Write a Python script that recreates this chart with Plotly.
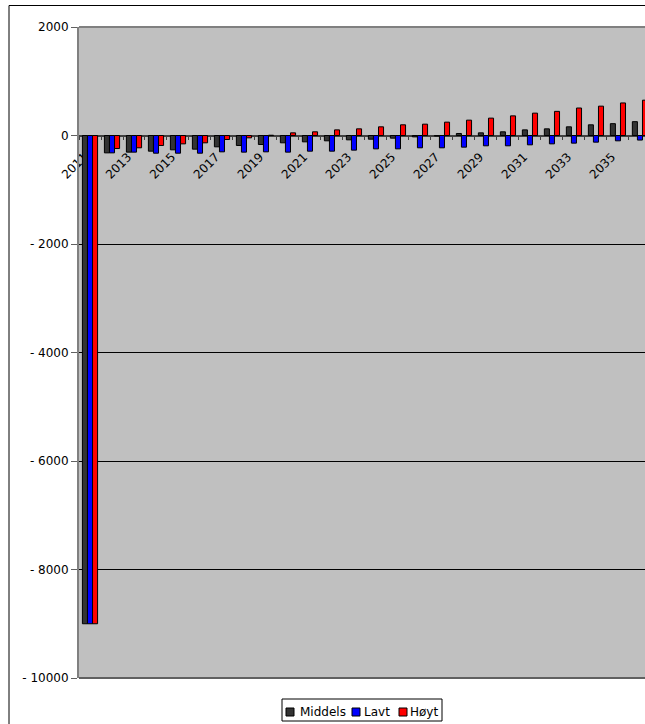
import plotly.graph_objects as go

years = [str(y) for y in range(2011, 2037)]
middels = [-9000, -320, -307, -289, -264, -252, -209, -184, -166, -135, -117, -98, -80,
           -68, -49, -25, -10, 37, 49, 68, 104, 123, 160, 197, 218, 255]
lavt = [-9000, -320, -307, -326, -326, -326, -301, -307, -301, -307, -289, -289, -270,
        -246, -246, -227, -227, -215, -190, -190, -172, -154, -141, -123, -98, -84]
hoyt = [-9000, -240, -227, -184, -154, -135, -74, -43, 5, 49, 68, 104, 123,
        160, 197, 209, 246, 283, 320, 362, 412, 445, 507, 541, 600, 651]
series_names = ["Middels", "Lavt", "Høyt"]
series_colors = ["#333333", "#0000FF", "#FF0000"]
x_ticktext = [y if int(y) % 2 == 1 else "" for y in years]
y_tickvals = [2000, 0, -2000, -4000, -6000, -8000, -10000]
y_ticktext = ["2000", "0", "- 2000", "- 4000", "- 6000", "- 8000", "- 10000"]

FONT = "DejaVu Sans"
W, H = 645, 724
ML, MR, MT, MB = 79, 0, 27, 46
PW, PH = W - ML - MR, H - MT - MB


def px_x(px):
    return (px - ML) / PW


def px_y(py):
    return (H - MB - py) / PH


fig = go.Figure()
for name, vals, col in zip(series_names, [middels, lavt, hoyt], series_colors):
    fig.add_trace(go.Bar(x=years, y=vals, name=name, showlegend=False,
                         marker=dict(color=col, line=dict(color="#000000", width=1))))

# legend (drawn as box + swatches + text labels)
legend_box = (282, 699, 442, 721)
swatch_x = [286, 352, 399]
label_x = [298, 362, 408]
shapes = [
    dict(type="line", xref="paper", yref="paper", x0=0, x1=1, y0=1, y1=1,
         line=dict(color="#808080", width=2)),
    dict(type="line", xref="paper", yref="paper", x0=0, x1=1, y0=0, y1=0,
         line=dict(color="#606060", width=2)),
    dict(type="rect", xref="paper", yref="paper", x0=px_x(9), x1=1.2,
         y0=-0.3, y1=px_y(5.5), line=dict(color="black", width=1),
         fillcolor="rgba(0,0,0,0)", layer="above"),
    dict(type="rect", xref="paper", yref="paper",
         x0=px_x(legend_box[0]), x1=px_x(legend_box[2]),
         y0=px_y(legend_box[3]), y1=px_y(legend_box[1]),
         line=dict(color="black", width=1), fillcolor="white", layer="above"),
]
annotations = []
for name, col, sx, lx in zip(series_names, series_colors, swatch_x, label_x):
    shapes.append(dict(type="rect", xref="paper", yref="paper",
                       x0=px_x(sx), x1=px_x(sx + 8), y0=px_y(716), y1=px_y(708),
                       line=dict(color="black", width=1), fillcolor=col, layer="above"))
    annotations.append(dict(xref="paper", yref="paper", x=px_x(lx), y=px_y(711.5),
                            text=name, showarrow=False, xanchor="left", yanchor="middle",
                            font=dict(family=FONT, size=12, color="black")))

fig.update_layout(
    width=W, height=H,
    margin=dict(l=ML, r=MR, t=MT, b=MB, autoexpand=False),
    paper_bgcolor="white",
    plot_bgcolor="#C0C0C0",
    barmode="group",
    bargap=0.31,
    bargroupgap=0,
    font=dict(family=FONT, size=12, color="black"),
    showlegend=False,
    xaxis=dict(
        type="category",
        range=[-0.5, 25.23],
        anchor="free", position=10000 / 12000,
        tickmode="array", tickvals=years, ticktext=x_ticktext,
        tickangle=-45, tickson="boundaries", ticks="outside", ticklen=4,
        tickcolor="#404040", ticklabelstandoff=9, ticklabelshift=-6,
        showline=True, linecolor="#404040", linewidth=1.5,
        showgrid=False, tickfont=dict(family=FONT, size=12),
        layer="below traces",
    ),
    yaxis=dict(
        range=[-10000, 2000],
        tickmode="array", tickvals=y_tickvals, ticktext=y_ticktext,
        ticks="outside", ticklen=6, tickcolor="#606060",
        showline=True, linecolor="#808080", linewidth=2,
        showgrid=True, gridcolor="#000000", gridwidth=1,
        zeroline=False, tickfont=dict(family=FONT, size=12),
    ),
    shapes=shapes,
    annotations=annotations,
)

fig.write_html("out.html")
